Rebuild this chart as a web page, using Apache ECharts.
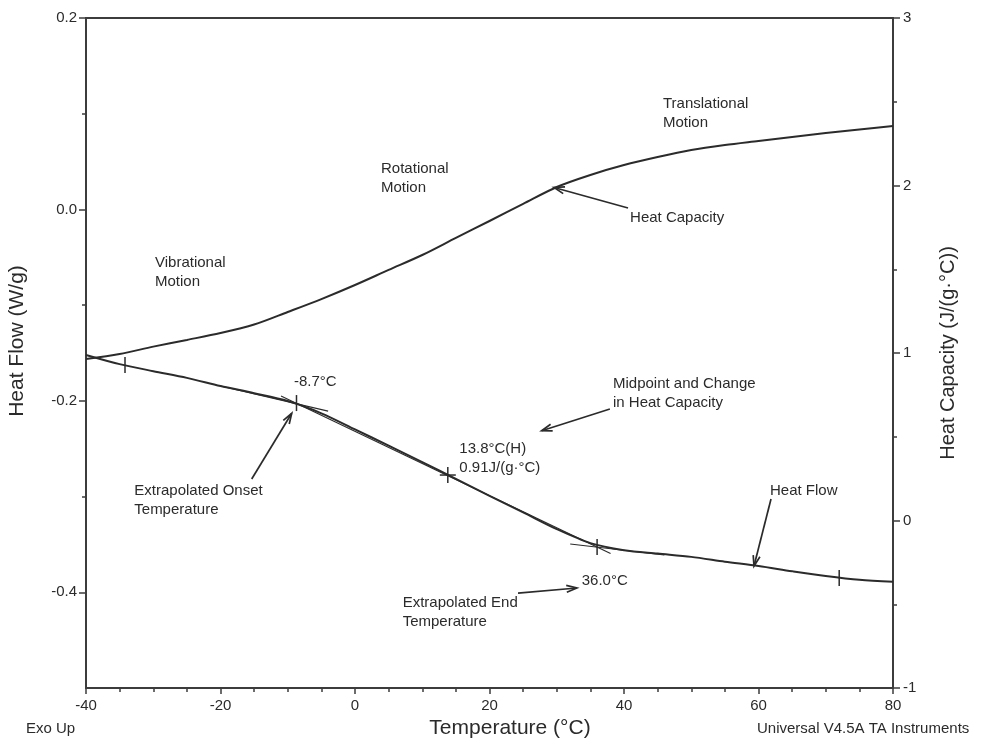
<!DOCTYPE html>
<html>
<head>
<meta charset="utf-8">
<title>DSC: Heat Flow and Heat Capacity</title>
<script src="https://cdn.jsdelivr.net/npm/echarts@6/dist/echarts.min.js"></script>
<style>
  html, body { margin: 0; padding: 0; background: #fff; }
  #chart { width: 982px; height: 739px; }
</style>
</head>
<body>
<div id="chart"></div>
<script>
// Temperature grid (°C) and the two measured signals
const temps = [-40, -35, -30, -25, -20, -15, -10, -5, 0, 5, 10, 15, 20, 25, 30, 35, 40, 45, 50, 55, 60, 65, 70, 75, 80];
const heatFlow = [-0.152, -0.1616, -0.169, -0.176, -0.1845, -0.192, -0.2002, -0.213, -0.2298, -0.2468, -0.264, -0.2815, -0.2993,
                  -0.3165, -0.334, -0.3486, -0.356, -0.3596, -0.363, -0.368, -0.3726, -0.378, -0.383, -0.387, -0.389];
const heatCapacity = [0.964, 0.994, 1.038, 1.078, 1.119, 1.170, 1.245, 1.322, 1.406, 1.496, 1.585, 1.687, 1.788,
                      1.890, 1.991, 2.063, 2.122, 2.170, 2.212, 2.242, 2.266, 2.290, 2.313, 2.334, 2.355];

// Axis ticks
const xTicks = [-40, -20, 0, 20, 40, 60, 80];
const flowTicks = [0.2, 0.0, -0.2, -0.4];
const flowMinorTicks = [0.1, -0.1, -0.3];
const capTicks = [-1, 0, 1, 2, 3];

// Analysis points marked on the heat-flow trace: temperature, heat flow, cross bar
const markT = [-34.2, -8.7, 13.8, 36.0, 72.0];
const markHF = [-0.1626, -0.2023, -0.2775, -0.3527, -0.385];
const markCross = [0, 0, 1, 0, 0];

// Construction lines: pre-transition baseline, inflection tangent, post-transition baseline
const baselineLow = [[-20, -0.1845], [-4, -0.2107]];
const inflectionTangent = [[-11, -0.1949], [38, -0.3594]];
const baselineHigh = [[32, -0.3495], [46, -0.3611]];

// Annotation arrows on the heat-flow scale: [tailT, tailHF, tipT, tipHF]
const flowArrows = [
  [37.9, -0.2085, 27.76, -0.2312],   // midpoint
  [-15.36, -0.2817, -9.41, -0.213],  // onset
  [24.24, -0.4008, 33.0, -0.3955],   // end
  [61.86, -0.3026, 59.33, -0.3726]   // heat flow
];
// Annotation arrow on the heat-capacity scale
const capArrows = [[40.6, 1.866, 29.6, 1.988]];

// Annotation texts, anchored at their top-left corner on the heat-flow scale
const noteText = ['Vibrational\nMotion', 'Rotational\nMotion', 'Translational\nMotion', 'Heat Capacity',
                  'Midpoint and Change\nin Heat Capacity', '13.8°C(H)\n0.91J/(g·°C)', '-8.7°C',
                  'Extrapolated Onset\nTemperature', '36.0°C', 'Extrapolated End\nTemperature', 'Heat Flow'];
const noteT = [-29.74, 3.87, 45.8, 40.9, 38.36, 15.51, -9.07, -32.82, 33.71, 7.09, 61.71];
const noteHF = [-0.046, 0.0522, 0.120, 0.0015, -0.1725, -0.2404, -0.1704, -0.2838, -0.3783, -0.4008, -0.2843];

const FONT = '"Liberation Sans", Arial, Helvetica, sans-serif';
const INK = '#2b2b2b';
const AXIS = '#3c3c3c';

const zip = (xs, ys) => xs.map((x, i) => [x, ys[i]]);

function arrowItem(params, api) {
  const p0 = api.coord([api.value(0), api.value(1)]);
  const p1 = api.coord([api.value(2), api.value(3)]);
  const ang = Math.atan2(p1[1] - p0[1], p1[0] - p0[0]);
  const L = 11, w = 0.32;
  const h1 = [p1[0] - L * Math.cos(ang - w), p1[1] - L * Math.sin(ang - w)];
  const h2 = [p1[0] - L * Math.cos(ang + w), p1[1] - L * Math.sin(ang + w)];
  return {
    type: 'group',
    children: [
      { type: 'line', shape: { x1: p0[0], y1: p0[1], x2: p1[0], y2: p1[1] }, style: { stroke: INK, lineWidth: 1.7 } },
      { type: 'polyline', shape: { points: [h1, p1, h2] }, style: { stroke: INK, lineWidth: 1.7, fill: null } }
    ]
  };
}

function markItem(params, api) {
  const p = api.coord([api.value(0), api.value(1)]);
  const children = [
    { type: 'line', shape: { x1: p[0], y1: p[1] - 8, x2: p[0], y2: p[1] + 8 }, style: { stroke: INK, lineWidth: 1.5 } }
  ];
  if (api.value(2)) {
    children.push({ type: 'line', shape: { x1: p[0] - 8, y1: p[1], x2: p[0] + 8, y2: p[1] }, style: { stroke: INK, lineWidth: 1.5 } });
  }
  return { type: 'group', children };
}

function noteItem(params, api) {
  const p = api.coord([api.value(0), api.value(1)]);
  return {
    type: 'text',
    x: p[0],
    y: p[1],
    style: {
      text: noteText[params.dataIndex],
      fill: INK,
      fontSize: 15,
      fontFamily: FONT,
      align: 'left',
      verticalAlign: 'top',
      lineHeight: 19
    }
  };
}

const construction = (data) => ({
  type: 'line', data, yAxisIndex: 0, symbol: 'none', silent: true, z: 2,
  lineStyle: { color: INK, width: 1.1 }
});

const chart = echarts.init(document.getElementById('chart'), null, { renderer: 'canvas' });

chart.setOption({
  backgroundColor: '#ffffff',
  animation: false,
  textStyle: { fontFamily: FONT, color: INK },
  grid: {
    left: 86, right: 89, top: 18, bottom: 51,
    containLabel: false,
    outerBoundsMode: 'none',
    show: true, borderColor: AXIS, borderWidth: 2, backgroundColor: 'transparent'
  },
  xAxis: {
    type: 'value', min: -40, max: 80, interval: 20,
    name: 'Temperature (°C)', nameLocation: 'middle', nameGap: 30,
    nameTextStyle: { fontSize: 21, fontFamily: FONT, color: INK, padding: [0, 0, 0, 41] },
    axisLine: { show: true, onZero: false, lineStyle: { color: AXIS, width: 2 } },
    axisTick: { show: true, length: 6, lineStyle: { color: AXIS, width: 1.5 } },
    minorTick: { show: true, splitNumber: 4, length: 4, lineStyle: { color: AXIS, width: 1.5 } },
    axisLabel: { show: true, margin: 10, fontSize: 15, fontFamily: FONT, color: INK, customValues: xTicks },
    splitLine: { show: false }, minorSplitLine: { show: false }
  },
  yAxis: [
    {
      type: 'value', position: 'left', min: -0.5, max: 0.2, interval: 0.1,
      name: 'Heat Flow (W/g)', nameLocation: 'middle', nameGap: 58,
      nameTextStyle: { fontSize: 21, fontFamily: FONT, color: INK, padding: [0, 0, 0, 24] },
      axisLine: { show: true, onZero: false, lineStyle: { color: AXIS, width: 2 } },
      axisTick: { show: true, length: 7, customValues: flowTicks, lineStyle: { color: AXIS, width: 1.5 } },
      axisLabel: {
        show: true, margin: 9, fontSize: 15, fontFamily: FONT, color: INK,
        customValues: flowTicks, formatter: (v) => v.toFixed(1)
      },
      splitLine: { show: false }
    },
    {
      type: 'value', position: 'right', min: -1, max: 3, interval: 1,
      name: 'Heat Capacity (J/(g·°C))', nameLocation: 'middle', nameGap: 45,
      nameTextStyle: { fontSize: 20, fontFamily: FONT, color: INK },
      axisLine: { show: true, onZero: false, lineStyle: { color: AXIS, width: 2 } },
      axisTick: { show: true, length: 7, lineStyle: { color: AXIS, width: 1.5 } },
      minorTick: { show: true, splitNumber: 2, length: 4, lineStyle: { color: AXIS, width: 1.5 } },
      axisLabel: { show: true, margin: 10, fontSize: 15, fontFamily: FONT, color: INK, customValues: capTicks },
      splitLine: { show: false }, minorSplitLine: { show: false }
    },
    {
      // minor ticks of the heat-flow scale
      type: 'value', position: 'left', offset: 0, min: -0.5, max: 0.2, interval: 0.1,
      axisLine: { show: false, onZero: false },
      axisTick: { show: true, length: 4, customValues: flowMinorTicks, lineStyle: { color: AXIS, width: 1.5 } },
      axisLabel: { show: false },
      splitLine: { show: false }
    }
  ],
  series: [
    {
      name: 'Heat Flow', type: 'line', yAxisIndex: 0, data: zip(temps, heatFlow),
      symbol: 'none', smooth: 0.3, z: 3,
      lineStyle: { color: INK, width: 2 }
    },
    {
      name: 'Heat Capacity', type: 'line', yAxisIndex: 1, data: zip(temps, heatCapacity),
      symbol: 'none', smooth: 0.3, z: 3,
      lineStyle: { color: INK, width: 2 }
    },
    construction(baselineLow),
    construction(inflectionTangent),
    construction(baselineHigh),
    {
      type: 'custom', yAxisIndex: 0, renderItem: markItem, silent: true, z: 4,
      data: markT.map((t, i) => [t, markHF[i], markCross[i]])
    },
    {
      type: 'custom', yAxisIndex: 0, renderItem: arrowItem, silent: true, z: 4,
      encode: { x: [0, 2], y: [1, 3] }, data: flowArrows
    },
    {
      type: 'custom', yAxisIndex: 1, renderItem: arrowItem, silent: true, z: 4,
      encode: { x: [0, 2], y: [1, 3] }, data: capArrows
    },
    {
      type: 'custom', yAxisIndex: 0, renderItem: noteItem, silent: true, z: 5,
      data: zip(noteT, noteHF)
    }
  ],
  graphic: [
    { type: 'text', left: 26, top: 721, style: { text: 'Exo Up', fontSize: 15, fontFamily: FONT, fill: INK } },
    { type: 'text', left: 757, top: 721, style: { text: 'Universal V4.5A TA Instruments', fontSize: 15, fontFamily: FONT, fill: INK } }
  ]
});
</script>
</body>
</html>
